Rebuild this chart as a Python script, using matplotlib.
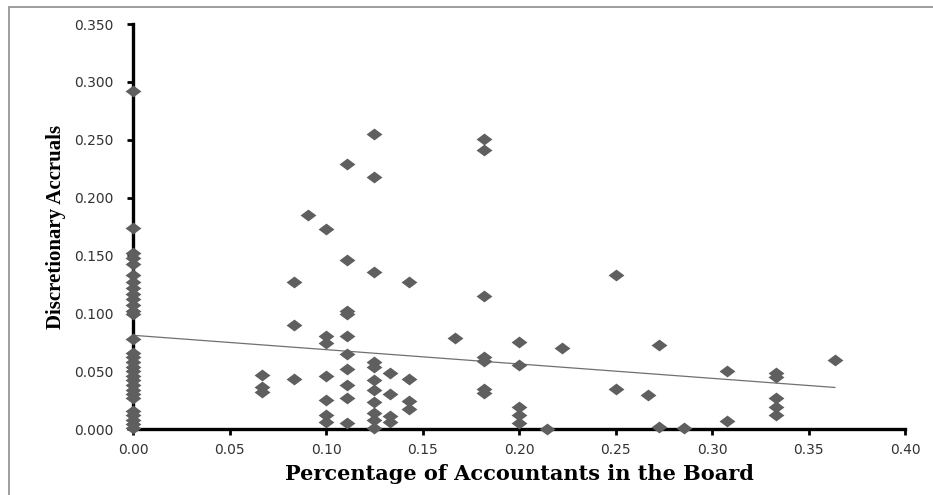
import numpy as np
import matplotlib
matplotlib.use('Agg')
import matplotlib.pyplot as plt
from matplotlib.patches import Rectangle

# share of accountants on the board for each firm, and its discretionary accruals
x0_acc = [0.292, 0.174, 0.152, 0.148, 0.143, 0.133, 0.127, 0.122, 0.117, 0.112,
          0.107, 0.102, 0.099, 0.078, 0.066, 0.062, 0.058, 0.054, 0.050, 0.046,
          0.042, 0.038, 0.034, 0.030, 0.027, 0.016, 0.012, 0.008, 0.004, 0.001]

groups = [
    (0.0, x0_acc),
    (1/15, [0.047, 0.036, 0.032]),
    (1/12, [0.127, 0.090, 0.043]),
    (1/11, [0.185]),
    (0.10, [0.173, 0.080, 0.074, 0.046, 0.025, 0.012, 0.006]),
    (1/9, [0.229, 0.146, 0.102, 0.099, 0.080, 0.065, 0.052, 0.038, 0.027, 0.005]),
    (0.125, [0.255, 0.218, 0.136, 0.058, 0.054, 0.042, 0.034, 0.023, 0.014, 0.008, 0.001]),
    (2/15, [0.048, 0.030, 0.011, 0.006]),
    (1/7, [0.127, 0.043, 0.024, 0.017]),
    (1/6, [0.079]),
    (2/11, [0.251, 0.241, 0.115, 0.062, 0.059, 0.035, 0.031]),
    (0.20, [0.075, 0.055, 0.019, 0.012, 0.005]),
    (3/14, [0.000]),
    (2/9, [0.070]),
    (0.25, [0.133, 0.035]),
    (4/15, [0.029]),
    (3/11, [0.073, 0.002]),
    (2/7, [0.001]),
    (4/13, [0.050, 0.007]),
    (1/3, [0.048, 0.045, 0.027, 0.019, 0.012]),
    (4/11, [0.060]),
]

pct_accountants = np.concatenate([[gx] * len(ys) for gx, ys in groups])
disc_accruals = np.concatenate([ys for gx, ys in groups])

# linear trend as drawn in the chart (intercept, slope)
trend_intercept = 0.081
trend_slope = -0.124

x_ticks = [0.00, 0.05, 0.10, 0.15, 0.20, 0.25, 0.30, 0.35, 0.40]
y_ticks = [0.000, 0.050, 0.100, 0.150, 0.200, 0.250, 0.300, 0.350]

fig = plt.figure(figsize=(9.33, 4.95), dpi=100)
ax = fig.add_axes([0.1426, 0.1333, 0.8274, 0.8182])

# wide, flat diamond like the spreadsheet marker
diamond = [(-1, 0), (0, 0.75), (1, 0), (0, -0.75), (-1, 0)]
ax.scatter(pct_accountants, disc_accruals, marker=diamond, s=130,
           color='#5f5f5f', linewidths=0, zorder=5, clip_on=False)

tx = np.array([0.0, pct_accountants.max()])
ax.plot(tx, trend_intercept + trend_slope * tx, color='#707070', lw=0.9, zorder=4)

ax.set_xlim(0, 0.40)
ax.set_ylim(0, 0.35)
ax.set_xticks(x_ticks)
ax.set_yticks(y_ticks)
ax.set_xticklabels([f'{v:.2f}' for v in x_ticks])
ax.set_yticklabels([f'{v:.3f}' for v in y_ticks])

for side in ['top', 'right']:
    ax.spines[side].set_visible(False)
for side in ['left', 'bottom']:
    ax.spines[side].set_linewidth(2.4)
    ax.spines[side].set_color('black')
ax.tick_params(direction='out', length=4, width=2, labelsize=10,
               labelcolor='#333333')
ax.tick_params(axis='y', pad=10)
ax.tick_params(axis='x', pad=6)

ax.set_xlabel('Percentage of Accountants in the Board', fontsize=15,
              fontweight='bold', family='DejaVu Serif', labelpad=5)
ax.set_ylabel('Discretionary Accruals', fontsize=15,
              fontweight='bold', family='Liberation Serif', labelpad=6)

# chart area border, cut off at the right and bottom
fig.patches.append(Rectangle((9 / 933, -0.1), 1.2, 1 - 7 / 495 + 0.1,
                             transform=fig.transFigure, fill=False,
                             edgecolor='#8c8c8c', lw=1.2))

fig.savefig('out.png', dpi=100)
